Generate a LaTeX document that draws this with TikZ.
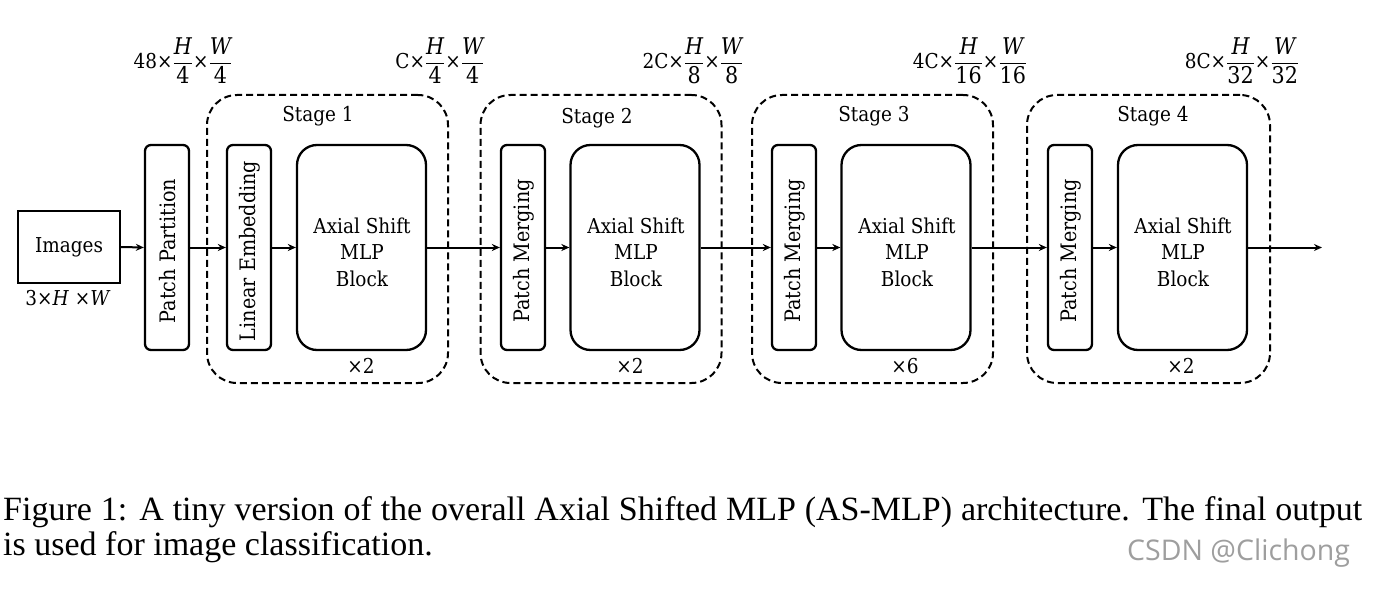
\documentclass[tikz,border=0pt]{standalone}
\usepackage{amsmath}
\usepackage{fontspec}
\setmainfont{DejaVu Serif}[FakeStretch=0.9]
\newfontfamily\capfont{Liberation Serif}
\newfontfamily\wmfont{Open Sans}
\usetikzlibrary{arrows.meta}
\newcommand{\dimfrac}[2]{$\dfrac{\text{\fontsize{23}{25}\selectfont\itshape #1}}{\text{\fontsize{23}{25}\selectfont #2}}$}
\tikzset{
  x=1pt,y=-1pt,
  lbl/.style={font=\fontsize{20.5}{26.5}\selectfont, inner sep=0pt},
  thin box/.style={draw, line width=2.3pt, rounded corners=6pt, minimum width=44pt, minimum height=205pt, inner sep=0pt},
  vtext/.style={font=\fontsize{21.3}{24}\selectfont, inner sep=0pt, rotate=90},
  mlp/.style={draw, line width=2.3pt, rounded corners=20pt, minimum width=129pt, minimum height=205pt, inner sep=0pt},
  mlptext/.style={align=center, font=\fontsize{20.5}{26.5}\selectfont, inner sep=0pt},
  stagebox/.style={draw, line width=2pt, dash pattern=on 7pt off 4pt, rounded corners=30pt, minimum width=241pt, minimum height=288pt, inner sep=0pt},
  conn/.style={line width=2pt, -{Stealth[length=8pt,width=7pt]}},
  dim/.style={font=\fontsize{20.5}{24}\selectfont, inner sep=0pt, anchor=base},
}
\begin{document}
\begin{tikzpicture}
\useasboundingbox (0,0) rectangle (1393,591);
% stages
\node[stagebox] (s1) at (327.5,239) {};
\node[stagebox] (s2) at (601,239) {};
\node[stagebox] (s3) at (872.5,239) {};
\node[stagebox, minimum width=243pt] (s4) at (1148.5,239) {};
\node[lbl, anchor=base] (s1t) at (318,122) {Stage 1};
\node[lbl, anchor=base] (s2t) at (597,124) {Stage 2};
\node[lbl, anchor=base] (s3t) at (874,122) {Stage 3};
\node[lbl, anchor=base] (s4t) at (1153,122) {Stage 4};
% images
\node[draw, line width=2.3pt, minimum width=102pt, minimum height=72pt, inner sep=0pt, font=\fontsize{20.5}{24}\selectfont] (img) at (69,247) {Images};
\node[dim] (imgd) at (68,305) {3×\textit{H} ×\textit{W}};
% blocks
\node[thin box] (pp) at (167,247.5) {};
\node[vtext] (ppt) at (168,251) {Patch Partition};
\node[thin box] (le) at (249,247.5) {};
\node[vtext] (let) at (250,251) {Linear Embedding};
\node[mlp] (m1) at (361.5,247.5) {};
\node[mlptext] (m1t) at (362,252) {Axial Shift\\MLP\\Block};
\node[thin box] (pm2) at (523,247.5) {};
\node[vtext] (pm2t) at (524,251) {Patch Merging};
\node[mlp] (m2) at (635,247.5) {};
\node[mlptext] (m2t) at (636,252) {Axial Shift\\MLP\\Block};
\node[thin box] (pm3) at (794,247.5) {};
\node[vtext] (pm3t) at (795,251) {Patch Merging};
\node[mlp] (m3) at (906,247.5) {};
\node[mlptext] (m3t) at (907,252) {Axial Shift\\MLP\\Block};
\node[thin box] (pm4) at (1070,247.5) {};
\node[vtext] (pm4t) at (1071,251) {Patch Merging};
\node[mlp] (m4) at (1182.5,247.5) {};
\node[mlptext] (m4t) at (1183,252) {Axial Shift\\MLP\\Block};
\coordinate (out) at (1322,247.5);
% repeat counts
\node[lbl, anchor=base] (r1) at (361,373) {×2};
\node[lbl, anchor=base] (r2) at (630,373) {×2};
\node[lbl, anchor=base] (r3) at (905,373) {×6};
\node[lbl, anchor=base] (r4) at (1181,373) {×2};
% connectors
\draw[conn] (img.east) -- (pp.west);
\draw[conn] (pp.east) -- (le.west);
\draw[conn] (le.east) -- (m1.west);
\draw[conn] (m1.east) -- (pm2.west);
\draw[conn] (pm2.east) -- (m2.west);
\draw[conn] (m2.east) -- (pm3.west);
\draw[conn] (pm3.east) -- (m3.west);
\draw[conn] (m3.east) -- (pm4.west);
\draw[conn] (pm4.east) -- (m4.west);
\draw[conn] (m4.east) -- (out);
% dimension labels
\node[dim] (d0) at (183,69) {48×\dimfrac{H}{4}×\dimfrac{W}{4}};
\node[dim] (d1) at (440,69) {C×\dimfrac{H}{4}×\dimfrac{W}{4}};
\node[dim] (d2) at (693,69) {2C×\dimfrac{H}{8}×\dimfrac{W}{8}};
\node[dim] (d3) at (970,69) {4C×\dimfrac{H}{16}×\dimfrac{W}{16}};
\node[dim] (d4) at (1242,69) {8C×\dimfrac{H}{32}×\dimfrac{W}{32}};
% caption
\node[anchor=base west, inner sep=0pt, font=\capfont\fontsize{34}{36}\selectfont] (cap1) at (3,520) {\makebox[1359pt][s]{Figure 1: A tiny version of the overall Axial Shifted MLP (AS-MLP) architecture. The final output}};
\node[anchor=base west, inner sep=0pt, font=\capfont\fontsize{34}{36}\selectfont] (cap2) at (3,555) {is used for image classification.};
\node[anchor=base west, inner sep=0pt, text=black!38, font=\wmfont\fontsize{28.5}{30}\selectfont] (wm) at (1127,560) {CSDN @Clichong};
\end{tikzpicture}
\end{document}
